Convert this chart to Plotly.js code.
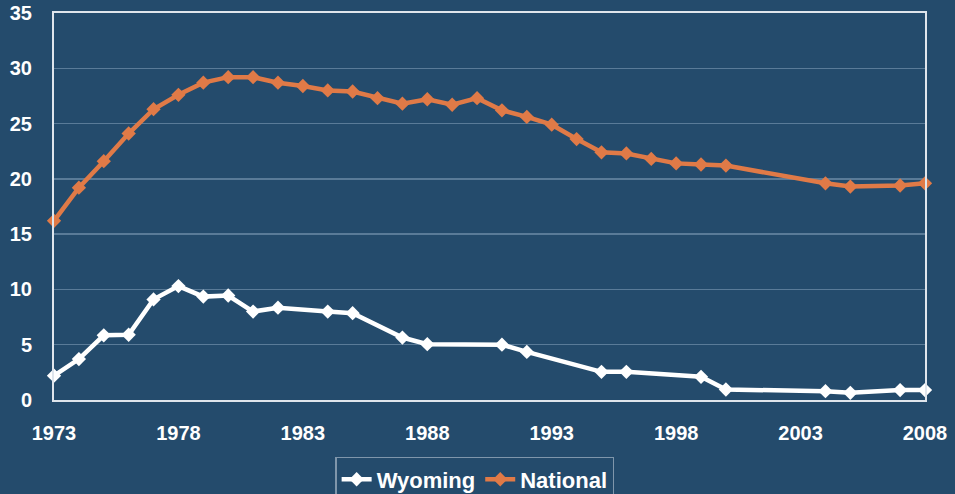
<!DOCTYPE html>
<html>
<head>
<meta charset="utf-8">
<script src="https://cdn.plot.ly/plotly-3.0.1.min.js"></script>
<style>html,body{margin:0;padding:0;background:#244b6c;}#chart{width:955px;height:494px;}</style>
</head>
<body>
<div id="chart"></div>
<script>
var wyomingYears = [1973,1974,1975,1976,1977,1978,1979,1980,1981,1982,1984,1985,1987,1988,1991,1992,1995,1996,1999,2000,2004,2005,2007,2008];
var wyomingValues = [2.2,3.7,5.85,5.9,9.1,10.3,9.35,9.45,8.0,8.35,8.0,7.85,5.65,5.05,5.0,4.35,2.55,2.55,2.1,0.95,0.8,0.65,0.9,0.9];
var nationalYears = [1973,1974,1975,1976,1977,1978,1979,1980,1981,1982,1983,1984,1985,1986,1987,1988,1989,1990,1991,1992,1993,1994,1995,1996,1997,1998,1999,2000,2004,2005,2007,2008];
var nationalValues = [16.2,19.2,21.6,24.1,26.3,27.6,28.7,29.2,29.2,28.7,28.4,28.0,27.9,27.3,26.8,27.2,26.7,27.3,26.2,25.6,24.9,23.6,22.4,22.3,21.8,21.4,21.3,21.2,19.6,19.3,19.4,19.6];
var xTickVals = [1973,1978,1983,1988,1993,1998,2003,2008];
var yTickVals = [0,5,10,15,20,25,30,35];

var bg = '#244b6c';
var traces = [
  {x: wyomingYears, y: wyomingValues, name: 'Wyoming', type: 'scatter', mode: 'lines+markers',
   line: {color: '#ffffff', width: 4.5}, marker: {symbol: 'diamond', size: 11, color: '#ffffff'}, cliponaxis: false},
  {x: nationalYears, y: nationalValues, name: 'National', type: 'scatter', mode: 'lines+markers',
   line: {color: '#e07a47', width: 4.5}, marker: {symbol: 'diamond', size: 11, color: '#e07a47'}, cliponaxis: false}
];
var layout = {
  width: 955, height: 494,
  paper_bgcolor: bg, plot_bgcolor: bg,
  margin: {l: 54, r: 30, t: 13, b: 94, autoexpand: false},
  font: {family: 'Liberation Sans, Arial, sans-serif', color: '#ffffff', size: 20},
  showlegend: true,
  legend: {orientation: 'h', x: 0.497, xanchor: 'center', xref: 'container', y: 0.075, yanchor: 'top', yref: 'container',
    bgcolor: bg, bordercolor: '#7f96ab', borderwidth: 1.5,
    font: {size: 22, color: '#ffffff', family: 'Liberation Sans, Arial, sans-serif', weight: 'bold'},
    itemwidth: 30, tracegroupgap: 0},
  xaxis: {range: [1973, 2008], tickvals: xTickVals, ticktext: xTickVals.map(String),
    showgrid: false, zeroline: false, showline: true, linecolor: '#dfe5ec', linewidth: 2, mirror: true,
    ticks: '', ticklabelstandoff: 14,
    tickfont: {size: 20, color: '#ffffff', weight: 'bold'}},
  yaxis: {range: [0, 35], tickvals: yTickVals, showgrid: true, gridcolor: '#5a7b98', gridwidth: 1.5,
    zeroline: false, showline: true, linecolor: '#dfe5ec', linewidth: 2, mirror: true,
    ticks: '', ticklabelstandoff: 16,
    tickfont: {size: 20, color: '#ffffff', weight: 'bold'}}
};
Plotly.newPlot('chart', traces, layout, {displayModeBar: false, staticPlot: true});
</script>
</body>
</html>
